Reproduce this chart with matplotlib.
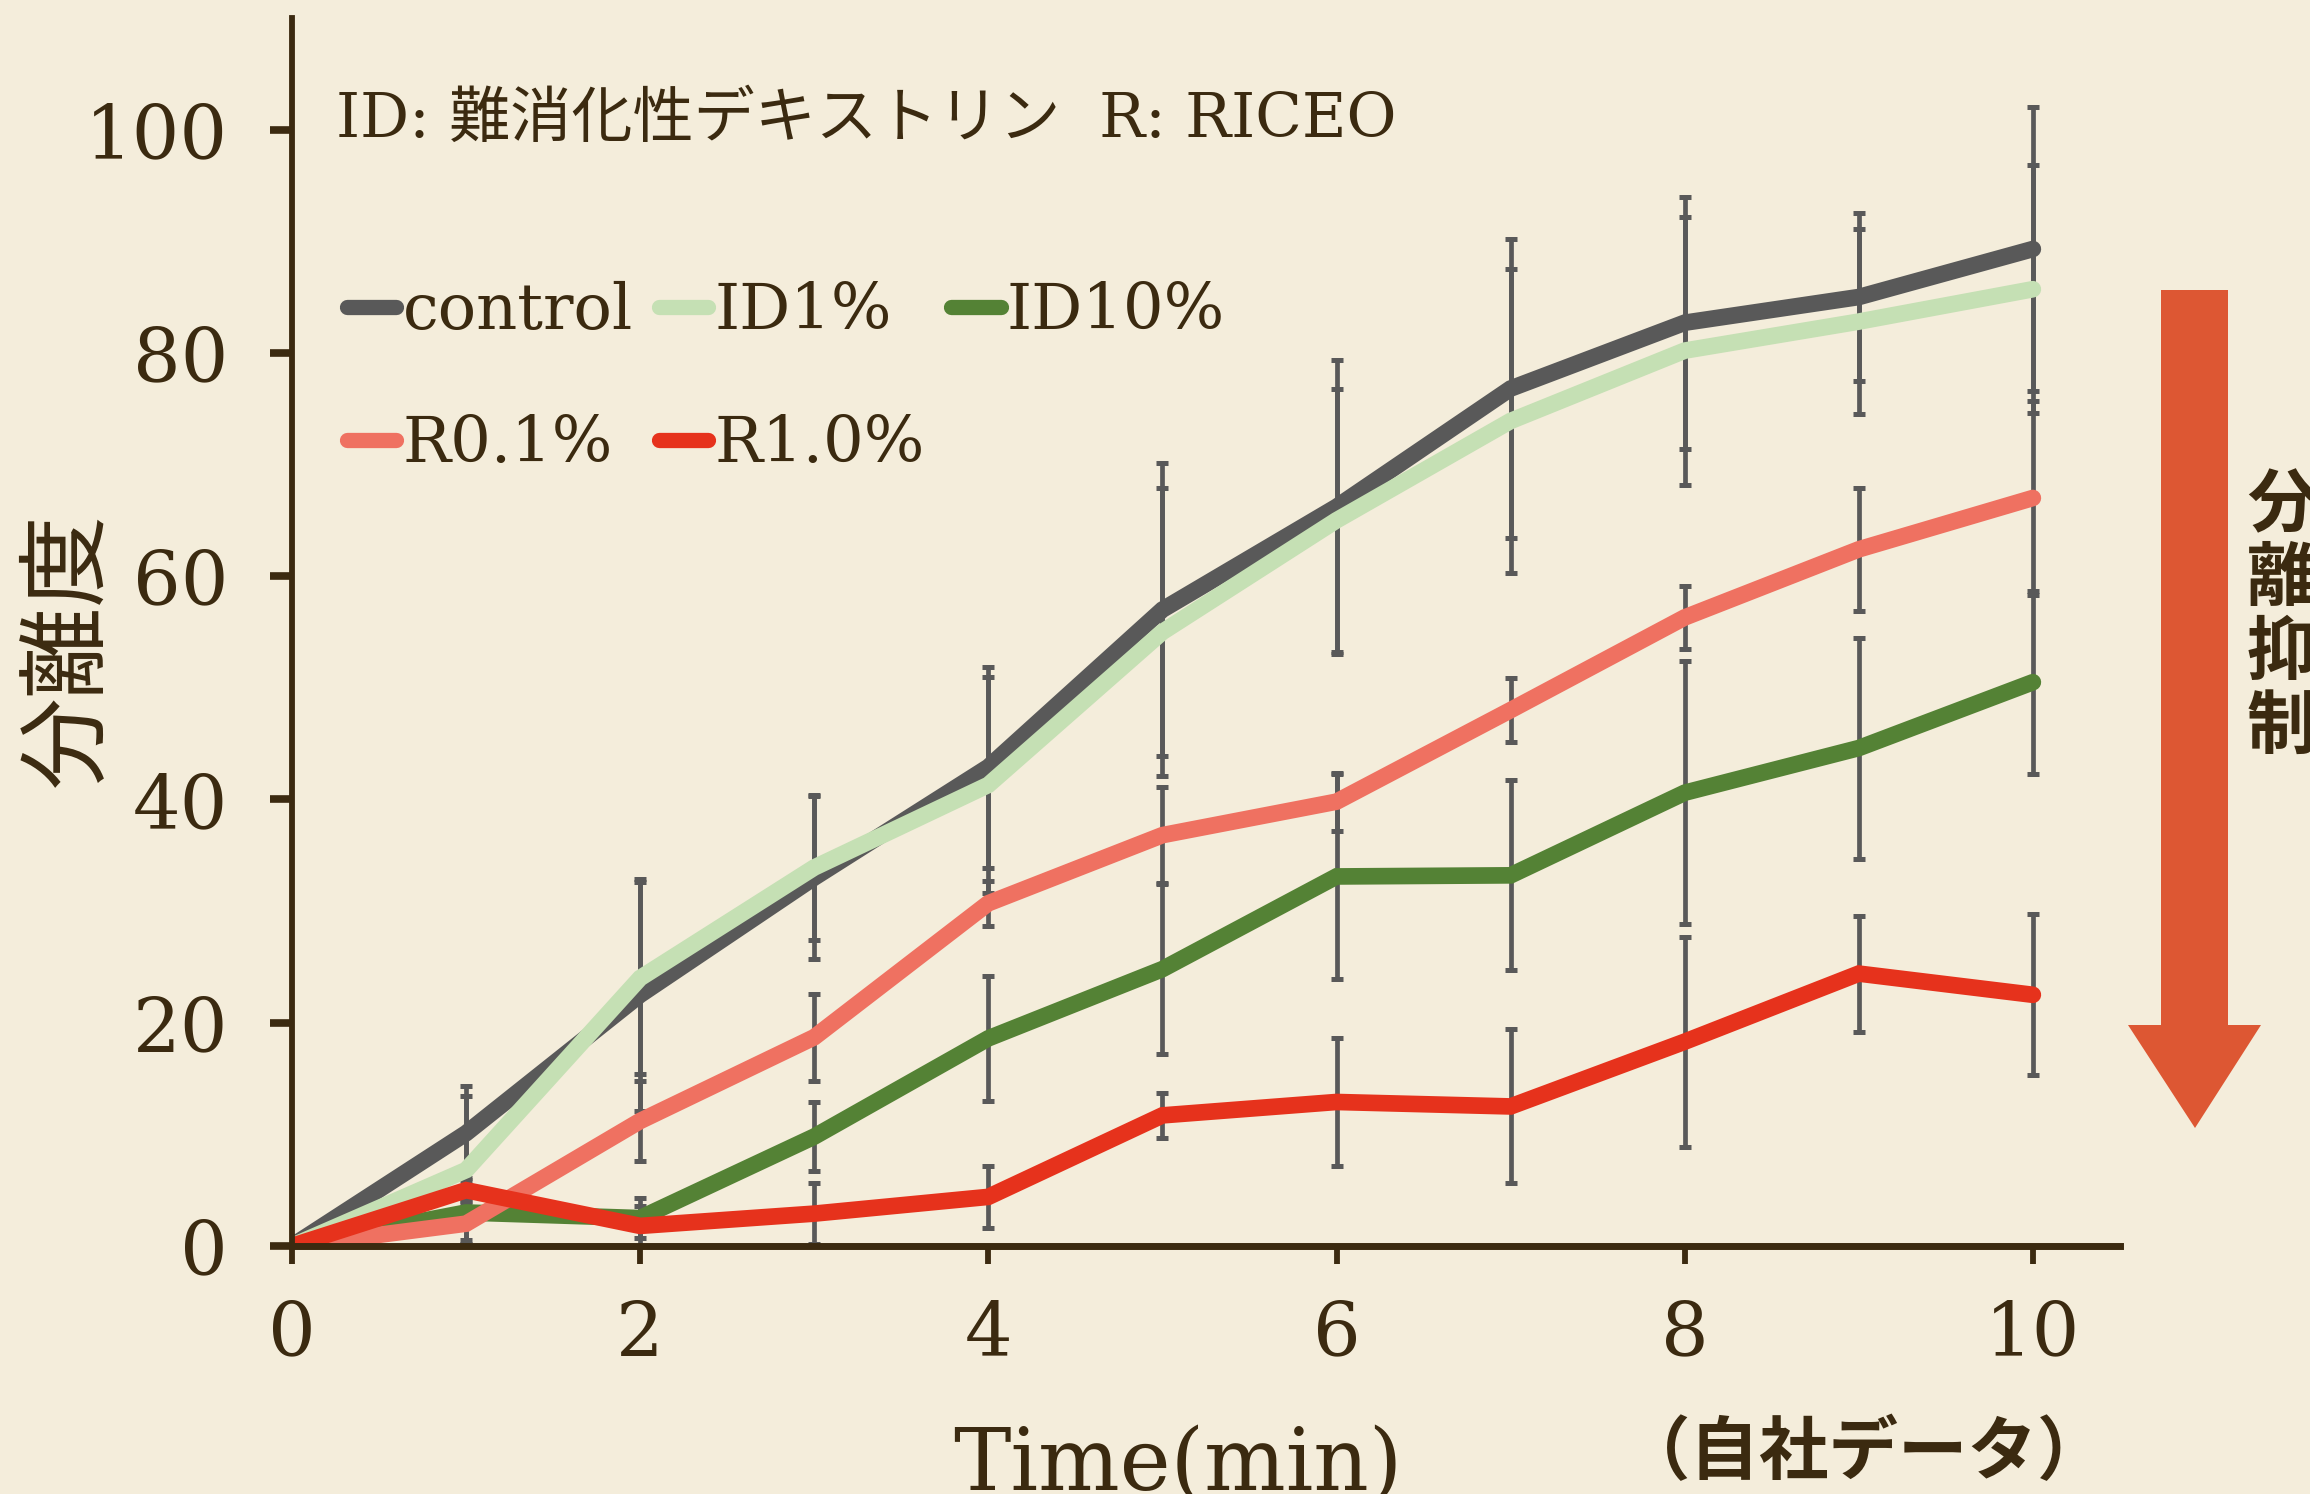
import numpy as np
import matplotlib
matplotlib.use("Agg")
from matplotlib import pyplot as plt
from matplotlib.lines import Line2D
from matplotlib.patches import Polygon

# data (minutes vs separation degree)
time = [0, 1, 2, 3, 4, 5, 6, 7, 8, 9, 10]
control = [0, 10.1, 22.5, 33.0, 42.9, 57.0, 66.2, 76.8, 82.7, 85.0, 89.3]
control_err = [0, 4.2, 10.4, 7.3, 9.0, 13.1, 13.2, 13.4, 11.3, 7.5, 12.7]
id1 = [0, 6.8, 24.0, 33.9, 41.3, 55.0, 65.0, 73.9, 80.2, 82.8, 85.7]
id1_err = [0, 6.6, 8.6, 6.5, 9.7, 12.9, 11.8, 13.6, 12.0, 8.3, 11.1]
id10 = [0, 3.0, 2.5, 9.8, 18.6, 24.8, 33.1, 33.2, 40.6, 44.6, 50.5]
id10_err = [0, 1.0, 1.8, 3.1, 5.6, 7.6, 9.2, 8.5, 11.8, 9.9, 8.2]
r01 = [0, 2.0, 11.2, 18.7, 30.7, 36.8, 39.8, 48.0, 56.3, 62.4, 67.0]
r01_err = [0, 1.5, 3.6, 3.9, 2.0, 4.3, 2.6, 2.9, 2.8, 5.5, 8.7]
r10 = [0, 5.0, 1.8, 2.9, 4.4, 11.7, 12.9, 12.5, 18.3, 24.4, 22.5]
r10_err = [0, 1.1, 1.8, 2.7, 2.8, 2.0, 5.7, 6.9, 9.4, 5.2, 7.2]

labels = ["control", "ID1%", "ID10%", "R0.1%", "R1.0%"]
colors = ["#595959", "#C5E0B4", "#548235", "#EF7161", "#E6321C"]
series = [control, id1, id10, r01, r10]
errors = [control_err, id1_err, id10_err, r01_err, r10_err]

bg = "#F4EDDB"
ink = "#3B2A10"
jp = ["Noto Sans CJK JP", "DejaVu Sans"]
serif = ["DejaVu Serif", "Noto Sans CJK JP"]

fig = plt.figure(figsize=(23.1, 14.94), dpi=100, facecolor=bg)
ax = fig.add_axes([0.1264, 0.166, 0.7913, 0.822])
ax.set_facecolor(bg)

x = np.array(time)
for s, e in zip(series, errors):
    ax.errorbar(x[1:], np.array(s)[1:], yerr=np.array(e)[1:], fmt="none",
                ecolor="#595959", elinewidth=3.4, capsize=4.3, capthick=3.6, zorder=1)
for s, c in zip(series, colors):
    ax.plot(x, s, color=c, lw=12, solid_capstyle="round", solid_joinstyle="miter", zorder=2)

ax.set_xlim(0, 10.5)
ax.set_ylim(0, 110)
ax.set_xticks([0, 2, 4, 6, 8, 10])
ax.set_yticks([0, 20, 40, 60, 80, 100])
for sp in ["top", "right"]:
    ax.spines[sp].set_visible(False)
ax.spines["left"].set_linewidth(4.2)
ax.spines["bottom"].set_linewidth(5)
ax.spines["left"].set_color(ink)
ax.spines["bottom"].set_color(ink)
ax.tick_params(axis="y", direction="out", length=16, width=5.5, color=ink, pad=30,
               labelsize=54, labelcolor=ink)
ax.tick_params(axis="x", direction="out", length=13, width=4.2, color=ink, pad=25,
               labelsize=54, labelcolor=ink)
for lab in ax.get_xticklabels() + ax.get_yticklabels():
    lab.set_family("DejaVu Serif")

# legend: columns filled top-to-bottom
order = [0, 3, 1, 4, 2]
handles = [Line2D([], [], color=colors[i], lw=11, solid_capstyle="round") for i in order]
leg = ax.legend(handles, [labels[i] for i in order], ncol=3, loc="upper left",
                bbox_to_anchor=(0.150, 0.812), bbox_transform=fig.transFigure,
                frameon=False, borderpad=0, borderaxespad=0, handlelength=0.78,
                handletextpad=0.1, columnspacing=0.4, labelspacing=1.13,
                prop={"family": "DejaVu Serif", "size": 46})
for t in leg.get_texts():
    t.set_color(ink)

fig.text(0.1455, 0.920, "ID: 難消化性デキストリン  R: RICEO", family=serif,
         fontsize=44, color=ink, va="center", ha="left")

fig.text(0.030, 0.565, "分離度", family=jp, fontsize=66, color=ink,
         rotation=90, va="center", ha="center")
fig.text(0.51, 0.003, "Time(min)", family=serif, fontsize=62, color=ink,
         ha="center", va="baseline")
fig.text(0.807, 0.027, "（自社データ）", family=jp, fontsize=50, color=ink,
         ha="center", va="center", weight="bold")

# big arrow on the right side
W, H = 2310.0, 1494.0
arrow_px = [(2161, 290), (2228, 290), (2228, 1025), (2261, 1025), (2195, 1128),
            (2128, 1025), (2161, 1025)]
arrow = Polygon([(px / W, 1 - py / H) for px, py in arrow_px], closed=True,
                facecolor="#DD5733", edgecolor="none", transform=fig.transFigure)
fig.add_artist(arrow)
fig.text(0.9727, 0.685, "分\n離\n抑\n制", family=jp, fontsize=50, color=ink,
         ha="left", va="top", weight="bold", linespacing=1.06)

fig.savefig("out.png", dpi=100, facecolor=bg)
